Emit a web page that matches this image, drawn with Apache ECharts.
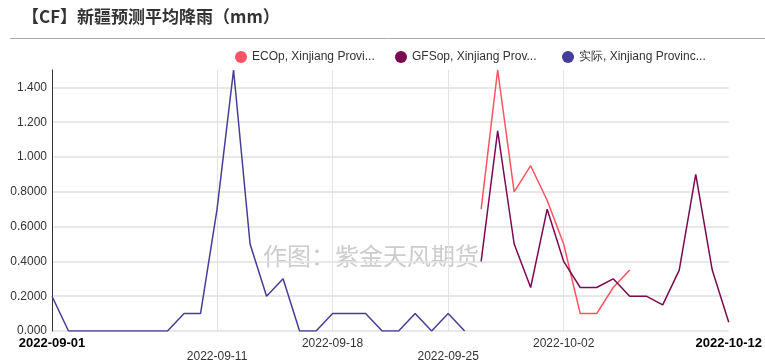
<!DOCTYPE html>
<html>
<head>
<meta charset="utf-8">
<script src="https://cdn.jsdelivr.net/npm/echarts@6/dist/echarts.min.js"></script>
<style>
html,body{margin:0;padding:0;background:#fff;}
#c{width:765px;height:363px;}
</style>
</head>
<body>
<div id="c"></div>
<script>
// Dates 2022-09-01 .. 2022-10-12
var dates = [
  '2022-09-01','2022-09-02','2022-09-03','2022-09-04','2022-09-05','2022-09-06','2022-09-07','2022-09-08',
  '2022-09-09','2022-09-10','2022-09-11','2022-09-12','2022-09-13','2022-09-14','2022-09-15','2022-09-16',
  '2022-09-17','2022-09-18','2022-09-19','2022-09-20','2022-09-21','2022-09-22','2022-09-23','2022-09-24',
  '2022-09-25','2022-09-26','2022-09-27','2022-09-28','2022-09-29','2022-09-30','2022-10-01','2022-10-02',
  '2022-10-03','2022-10-04','2022-10-05','2022-10-06','2022-10-07','2022-10-08','2022-10-09','2022-10-10',
  '2022-10-11','2022-10-12'
];
var seriesNames = ['ECOp, Xinjiang Provi...', 'GFSop, Xinjiang Prov...', '实际, Xinjiang Provinc...'];
var ecop = [
  null,null,null,null,null,null,null,null,null,null,null,null,null,null,null,null,
  null,null,null,null,null,null,null,null,null,null,
  0.7,1.5,0.8,0.95,0.75,0.5,0.1,0.1,0.25,0.35,
  null,null,null,null,null,null
];
var gfsop = [
  null,null,null,null,null,null,null,null,null,null,null,null,null,null,null,null,
  null,null,null,null,null,null,null,null,null,null,
  0.4,1.15,0.5,0.25,0.7,0.4,0.25,0.25,0.3,0.2,0.2,0.15,0.35,0.9,0.35,0.05
];
var actual = [
  0.2,0,0,0,0,0,0,0,0.1,0.1,0.7,1.5,0.5,0.2,0.3,0,
  0,0.1,0.1,0.1,0,0,0.1,0,0.1,0,
  null,null,null,null,null,null,null,null,null,null,null,null,null,null,null,null
];
var shownLabels = {'2022-09-01':'b','2022-09-11':'low','2022-09-18':'up','2022-09-25':'low','2022-10-02':'up','2022-10-12':'b'};
var splitIdx = [10,17,24,31];
var colors = ['#ff5262','#7a0a52','#463d96'];

var chart = echarts.init(document.getElementById('c'), null, {renderer:'canvas'});
var font = '"Liberation Sans", Arial, sans-serif';
function lg(name, left){
  return {
    left:left, top:46, icon:'circle', itemWidth:12, itemHeight:12,
    textStyle:{fontFamily:font,fontSize:12,color:'#333'},
    data:[name]
  };
}
chart.setOption({
  animation:false,
  backgroundColor:'#fff',
  color: colors,
  grid:{left:52,right:34,top:70,bottom:31,containLabel:false},
  legend:[lg(seriesNames[0],230), lg(seriesNames[1],390), lg(seriesNames[2],557)],
  graphic:[
    {type:'text', left:22, top:8, style:{text:'【CF】新疆预测平均降雨（mm）', font:'bold 17px "Noto Sans CJK SC"', fill:'#333'}},
    {type:'line', shape:{x1:10,y1:38.5,x2:765,y2:38.5}, style:{stroke:'#aaaaaa',lineWidth:1}},
    {type:'text', left:263, top:244, z:0, style:{text:'作图：紫金天风期货', font:'24px "Noto Sans CJK SC"', fill:'#cccccc'}}
  ],
  xAxis:{
    type:'category', data:dates, boundaryGap:false,
    axisLine:{show:false}, axisTick:{show:false},
    axisLabel:{
      interval:function(i,v){return shownLabels.hasOwnProperty(v);},
      margin:6, fontFamily:font, fontSize:12, color:'#333', lineHeight:13,
      formatter:function(v){
        var k = shownLabels[v];
        if(k==='b') return '{b|'+v+'}';
        if(k==='low') return '\n'+v;
        return v;
      },
      rich:{b:{fontWeight:'bold',color:'#000',fontSize:13,fontFamily:font,lineHeight:13}}
    },
    splitLine:{show:true, interval:function(i){return splitIdx.indexOf(i)>=0;}, lineStyle:{color:'#e3e3e3',width:1}}
  },
  yAxis:{
    type:'value', min:0, max:1.5, interval:0.2,
    axisLine:{show:true,lineStyle:{color:'#333',width:1}},
    axisTick:{show:false},
    axisLabel:{showMaxLabel:false, margin:5, fontFamily:font, fontSize:12, color:'#333',
      formatter:function(v){return Math.abs(v-1.5)<1e-9?'':v.toPrecision(4);}},
    splitLine:{show:true,lineStyle:{width:1.5,color:['#e0e0e0','#e0e0e0','#e0e0e0','#e0e0e0','#e0e0e0','#e0e0e0','#e0e0e0','#e0e0e0','rgba(0,0,0,0)']}}
  },
  series:[
    {name:seriesNames[0], type:'line', data:ecop, showSymbol:false, connectNulls:false, lineStyle:{width:1.5}, z:3},
    {name:seriesNames[1], type:'line', data:gfsop, showSymbol:false, connectNulls:false, lineStyle:{width:1.5}, z:4},
    {name:seriesNames[2], type:'line', data:actual, showSymbol:false, connectNulls:false, lineStyle:{width:1.5}, z:2}
  ]
});
</script>
</body>
</html>
